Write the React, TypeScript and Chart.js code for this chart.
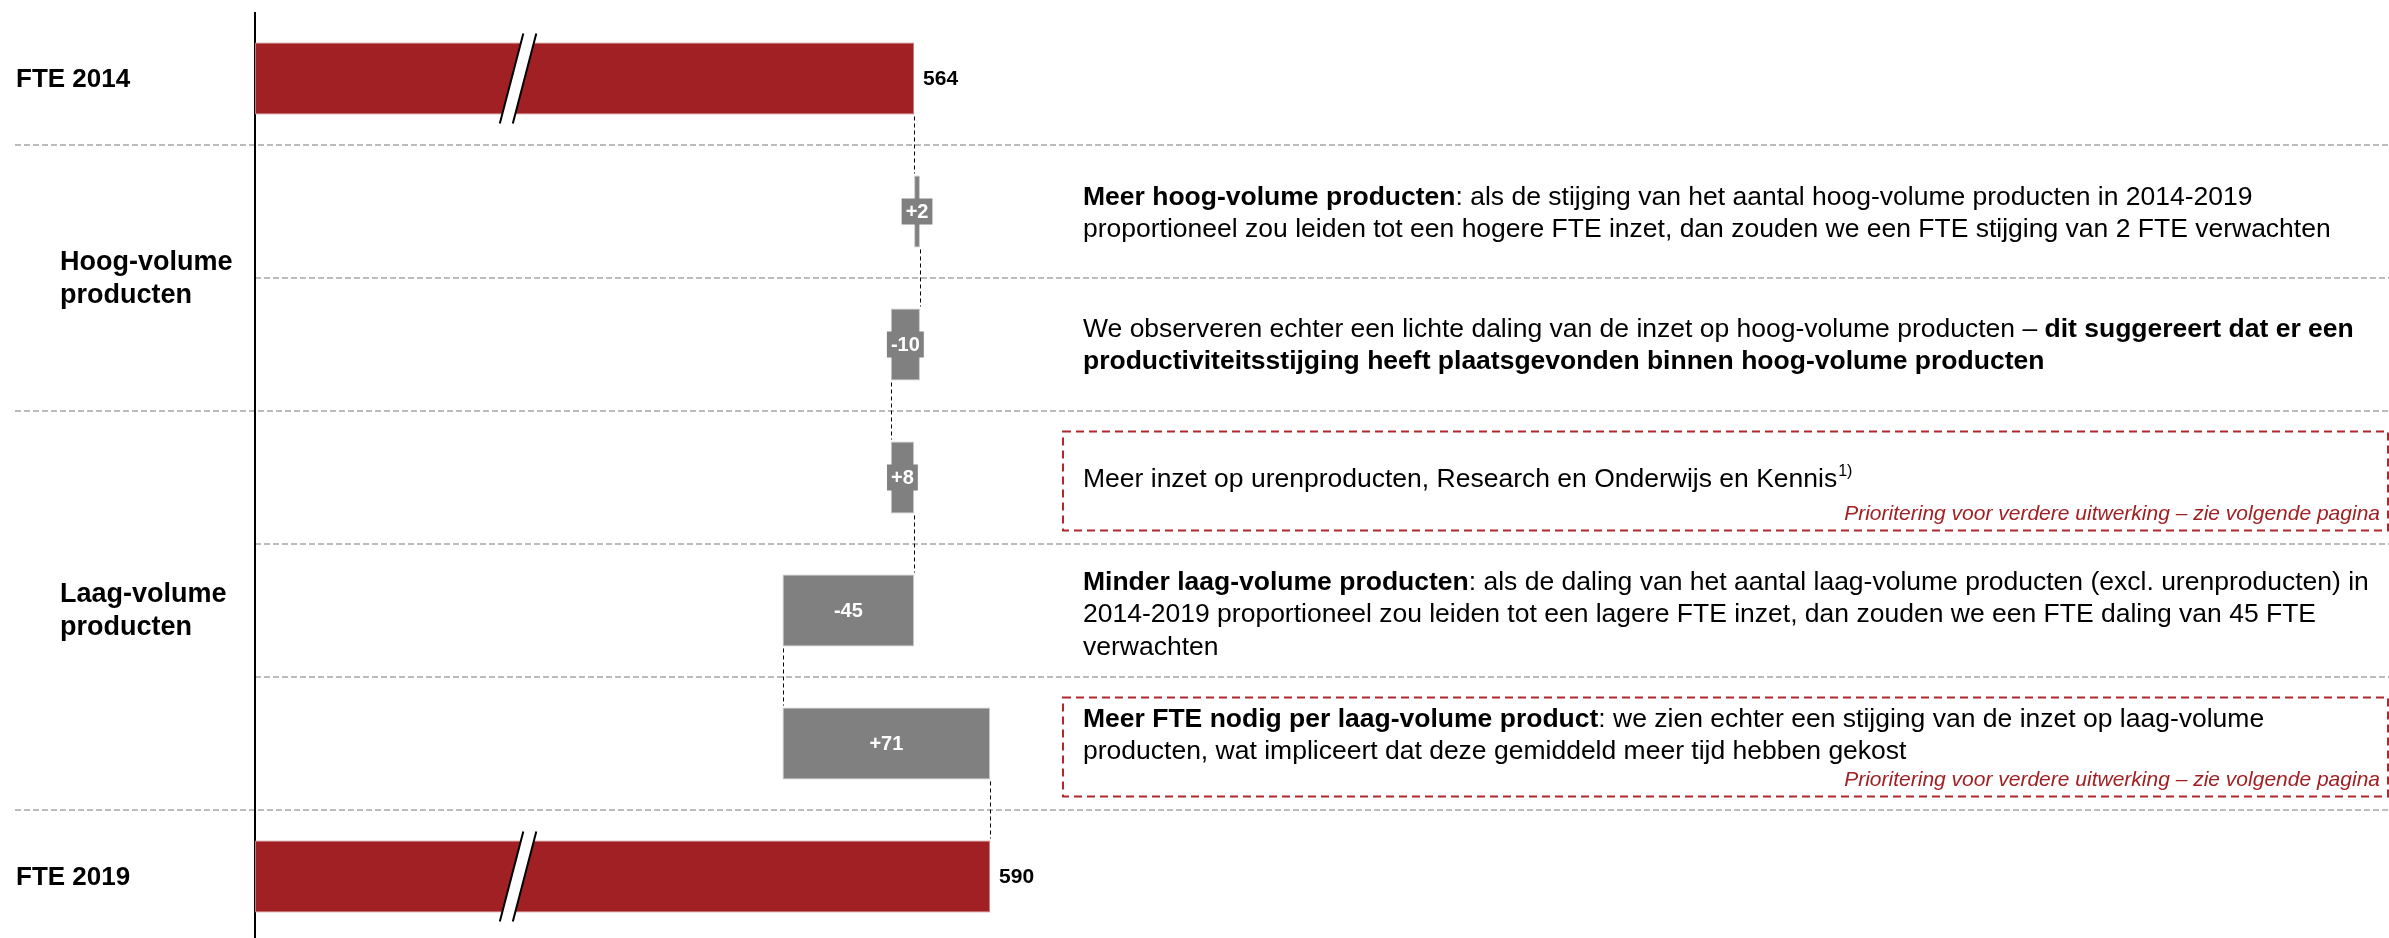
import React, { useEffect, useRef } from 'react';
import { Chart, registerables } from 'chart.js';

Chart.register(...registerables);

// ---------- data ----------
const categories = [
  'FTE 2014',
  'Meer hoog-volume producten',
  'Productiviteit hoog-volume',
  'Meer inzet urenproducten',
  'Minder laag-volume producten',
  'Meer FTE per laag-volume product',
  'FTE 2019',
];
const startFTE = 564;
const endFTE = 590;
const deltas = [2, -10, 8, -45, 71];
const valueLabels = ['564', '+2', '-10', '+8', '-45', '+71', '590'];
const axisMin = 338.5;
const axisMax = 1068.6;
const breakValue = 428.5;

const groupLabels = [
  { lines: ['FTE 2014'], rows: [0] },
  { lines: ['Hoog-volume', 'producten'], rows: [1, 2] },
  { lines: ['Laag-volume', 'producten'], rows: [3, 4, 5] },
  { lines: ['FTE 2019'], rows: [6] },
];

type Seg = { t: string; b?: boolean; sup?: boolean };
const comments: { row: number; lines: Seg[][]; note?: string }[] = [
  {
    row: 1,
    lines: [
      [{ t: 'Meer hoog-volume producten', b: true }, { t: ': als de stijging van het aantal hoog-volume producten in 2014-2019' }],
      [{ t: 'proportioneel zou leiden tot een hogere FTE inzet, dan zouden we een FTE stijging van 2 FTE verwachten' }],
    ],
  },
  {
    row: 2,
    lines: [
      [{ t: 'We observeren echter een lichte daling van de inzet op hoog-volume producten – ' }, { t: 'dit suggereert dat er een', b: true }],
      [{ t: 'productiviteitsstijging heeft plaatsgevonden binnen hoog-volume producten', b: true }],
    ],
  },
  {
    row: 3,
    lines: [[{ t: 'Meer inzet op urenproducten, Research en Onderwijs en Kennis' }, { t: '1)', sup: true }]],
    note: 'Prioritering voor verdere uitwerking – zie volgende pagina',
  },
  {
    row: 4,
    lines: [
      [{ t: 'Minder laag-volume producten', b: true }, { t: ': als de daling van het aantal laag-volume producten (excl. urenproducten) in' }],
      [{ t: '2014-2019 proportioneel zou leiden tot een lagere FTE inzet, dan zouden we een FTE daling van 45 FTE' }],
      [{ t: 'verwachten' }],
    ],
  },
  {
    row: 5,
    lines: [
      [{ t: 'Meer FTE nodig per laag-volume product', b: true }, { t: ': we zien echter een stijging van de inzet op laag-volume' }],
      [{ t: 'producten, wat impliceert dat deze gemiddeld meer tijd hebben gekost' }],
    ],
    note: 'Prioritering voor verdere uitwerking – zie volgende pagina',
  },
];

// ---------- derived ----------
const running: number[] = [startFTE];
deltas.forEach((d) => running.push(running[running.length - 1] + d));
const ranges: [number, number][] = [[axisMin, startFTE]];
deltas.forEach((d, i) => {
  const a = running[i];
  const b = running[i + 1];
  ranges.push([Math.min(a, b), Math.max(a, b)]);
});
ranges.push([axisMin, endFTE]);
const cumulative = [...running, endFTE];

const RED = '#A12023';
const GRAY = '#808080';
const FONT = '"Liberation Sans", Arial, Helvetica, sans-serif';
const W = 2389;
const H = 943;

// first-line offset (relative to row centre) for comment blocks
const firstLineOffset: Record<number, number> = { 1: -14, 2: -15, 3: 2, 4: -28, 5: -24 };
const LINE_H = 32.5;
const TEXT_SIZE = 26.5;

const overlay = {
  id: 'overlay',
  beforeDatasetsDraw(chart: any) {
    const { ctx, chartArea, scales } = chart;
    const ys = scales.y;
    const xs = scales.x;
    const centers = categories.map((_, i) => ys.getPixelForValue(i));
    const groupEnds = groupLabels.map((g) => g.rows[g.rows.length - 1]);
    ctx.save();
    // separators
    ctx.setLineDash([6, 3]);
    ctx.strokeStyle = '#a6a6a6';
    ctx.lineWidth = 1.6;
    for (let i = 0; i < categories.length - 1; i++) {
      const yy = Math.round((centers[i] + centers[i + 1]) / 2);
      const full = groupEnds.includes(i);
      ctx.beginPath();
      ctx.moveTo(full ? 15 : chartArea.left, yy);
      ctx.lineTo(W, yy);
      ctx.stroke();
    }
    // connectors
    const meta = chart.getDatasetMeta(0);
    ctx.setLineDash([4, 3]);
    ctx.strokeStyle = '#000';
    ctx.lineWidth = 1;
    for (let i = 0; i < meta.data.length - 1; i++) {
      const a = meta.data[i];
      const b = meta.data[i + 1];
      const px = Math.round(xs.getPixelForValue(cumulative[i])) + 0.5;
      ctx.beginPath();
      ctx.moveTo(px, a.y + a.height / 2 + 2);
      ctx.lineTo(px, b.y - b.height / 2 - 2);
      ctx.stroke();
    }
    // axis line
    ctx.setLineDash([]);
    ctx.strokeStyle = '#000';
    ctx.lineWidth = 2;
    ctx.beginPath();
    ctx.moveTo(chartArea.left, chartArea.top);
    ctx.lineTo(chartArea.left, chartArea.bottom);
    ctx.stroke();
    ctx.restore();
  },
  afterDatasetsDraw(chart: any) {
    const { ctx, scales } = chart;
    const ys = scales.y;
    const xs = scales.x;
    const meta = chart.getDatasetMeta(0);
    const centers = categories.map((_, i) => ys.getPixelForValue(i));
    const last = meta.data.length - 1;
    ctx.save();
    // break marks
    [0, last].forEach((i) => {
      const el = meta.data[i];
      const cx = xs.getPixelForValue(breakValue);
      const t = el.y - el.height / 2 - 9;
      const b = el.y + el.height / 2 + 9;
      const s = 11.75;
      const hw = 6.5;
      ctx.fillStyle = '#fff';
      ctx.beginPath();
      ctx.moveTo(cx + s - hw, t);
      ctx.lineTo(cx + s + hw, t);
      ctx.lineTo(cx - s + hw, b);
      ctx.lineTo(cx - s - hw, b);
      ctx.closePath();
      ctx.fill();
      ctx.strokeStyle = '#000';
      ctx.lineWidth = 2;
      ctx.beginPath();
      ctx.moveTo(cx + s - hw, t);
      ctx.lineTo(cx - s - hw, b);
      ctx.moveTo(cx + s + hw, t);
      ctx.lineTo(cx - s + hw, b);
      ctx.stroke();
    });
    // value labels
    ctx.textBaseline = 'middle';
    meta.data.forEach((el: any, i: number) => {
      const right = Math.max(el.x, el.base);
      const left = Math.min(el.x, el.base);
      if (i === 0 || i === last) {
        ctx.font = `bold 21px ${FONT}`;
        ctx.fillStyle = '#000';
        ctx.textAlign = 'left';
        ctx.fillText(valueLabels[i], right + 9, el.y + 1);
      } else {
        ctx.font = `bold 20px ${FONT}`;
        const tw = ctx.measureText(valueLabels[i]).width;
        const cx = (left + right) / 2;
        ctx.fillStyle = GRAY;
        ctx.fillRect(cx - tw / 2 - 4, el.y - 13, tw + 8, 26);
        ctx.fillStyle = '#fff';
        ctx.textAlign = 'center';
        ctx.fillText(valueLabels[i], cx, el.y + 1);
      }
    });
    // group labels
    ctx.textAlign = 'left';
    ctx.fillStyle = '#000';
    groupLabels.forEach((g) => {
      const c = (centers[g.rows[0]] + centers[g.rows[g.rows.length - 1]]) / 2;
      const multi = g.lines.length > 1;
      ctx.font = `bold ${multi ? 27 : 26}px ${FONT}`;
      const lh = 33;
      g.lines.forEach((ln, k) => {
        const yy = c + (k - (g.lines.length - 1) / 2) * lh + 1;
        ctx.fillText(ln, multi ? 60 : 16, yy);
      });
    });
    // comments
    const tx = 1083;
    comments.forEach((cm) => {
      const rc = centers[cm.row];
      if (cm.note) {
        ctx.setLineDash([8, 5]);
        ctx.strokeStyle = '#B0282C';
        ctx.lineWidth = 2;
        ctx.strokeRect(1063, rc - 46, W - 1 - 1063, 99);
        ctx.setLineDash([]);
        ctx.font = `italic 21px ${FONT}`;
        ctx.fillStyle = RED;
        ctx.textAlign = 'right';
        ctx.fillText(cm.note, 2380, rc + 37);
        ctx.textAlign = 'left';
      }
      ctx.fillStyle = '#000';
      cm.lines.forEach((line, k) => {
        let xx = tx;
        const yy = rc + firstLineOffset[cm.row] + k * LINE_H;
        line.forEach((seg) => {
          if (seg.sup) {
            ctx.font = `16px ${FONT}`;
            ctx.fillText(seg.t, xx + 1, yy - 8);
            xx += ctx.measureText(seg.t).width + 1;
          } else {
            ctx.font = `${seg.b ? 'bold ' : ''}${TEXT_SIZE}px ${FONT}`;
            ctx.fillText(seg.t, xx, yy);
            xx += ctx.measureText(seg.t).width;
          }
        });
      });
    });
    ctx.restore();
  },
};

export default function App() {
  const ref = useRef<HTMLCanvasElement>(null);
  useEffect(() => {
    if (!ref.current) return;
    const colors = categories.map((_, i) => (i === 0 || i === categories.length - 1 ? RED : GRAY));
    const borders = categories.map((_, i) => (i === 0 || i === categories.length - 1 ? '#c97a7c' : '#c8c8c8'));
    const chart = new Chart(ref.current, {
      type: 'bar',
      data: {
        labels: categories,
        datasets: [
          {
            data: ranges as any,
            backgroundColor: colors,
            borderColor: borders,
            borderWidth: 1,
            borderSkipped: false,
            categoryPercentage: 1,
            barPercentage: 0.541,
          },
        ],
      },
      options: {
        indexAxis: 'y',
        responsive: false,
        animation: false,
        events: [],
        layout: { padding: { left: 255, top: 12, right: 0, bottom: 0 } },
        plugins: { legend: { display: false }, tooltip: { enabled: false } },
        scales: {
          x: { type: 'linear', display: false, min: axisMin, max: axisMax },
          y: { type: 'category', display: false },
        },
      },
      plugins: [overlay],
    });
    return () => chart.destroy();
  }, []);
  return (
    <div style={{ position: 'fixed', left: 0, top: 0, width: W, height: 938, overflow: 'hidden', background: '#fff' }}>
      <canvas ref={ref} width={W} height={H} style={{ width: W, height: H, display: 'block' }} />
    </div>
  );
}
